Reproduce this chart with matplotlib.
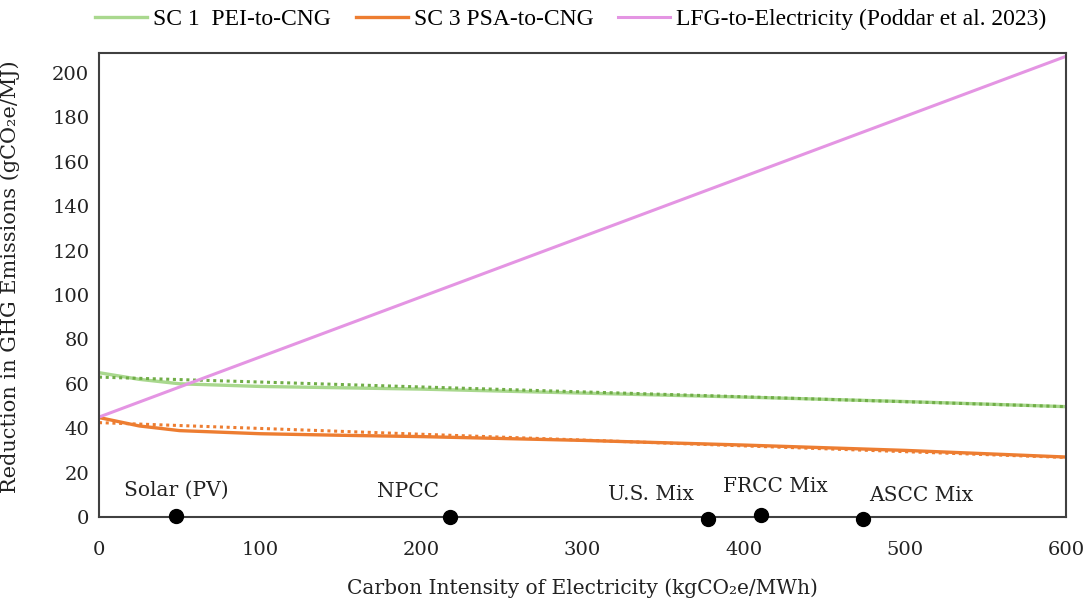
import matplotlib.pyplot as plt
import numpy as np

# === Data ===
ci_x = [0, 25, 50, 100, 150, 200, 300, 400, 500, 600]
sc1_pei = [65, 62, 60, 58.8, 58.2, 57.6, 55.8, 54, 52, 49.7]
sc3_psa = [44.8, 41, 38.9, 37.5, 36.8, 36.2, 34.5, 32.4, 30.0, 27.0]

# linear trendlines (end points)
trend_x = [0, 600]
sc1_trend = [63, 49.7]
sc3_trend = [42.5, 26.8]

lfg_x = [0, 600]
lfg_elec = [45, 207.5]

grid_names = ["Solar (PV)", "NPCC", "U.S. Mix", "FRCC Mix", "ASCC Mix"]
grid_ci = [48, 218, 378, 411, 474]
grid_y = [0.5, 0, -0.8, 0.8, -0.8]
label_offsets = [(0, 26), (-42, 25), (-57, 24), (14, 29), (58, 23)]  # pixels

# === Setup ===
plt.rcParams['font.family'] = ['DejaVu Serif']
fig = plt.figure(figsize=(10.83, 6.05), dpi=100)
ax = fig.add_axes([0.0914, 0.1455, 0.8929, 0.7669])

green_solid = "#a9d88e"
green_dot = "#70ad47"
orange = "#ed7d31"
pink = "#e495e3"
txt = "#222222"

# === Plot Lines ===
ax.plot(ci_x, sc1_pei, color=green_solid, lw=2.4, label="SC 1  PEI-to-CNG")
ax.plot(trend_x, sc1_trend, color=green_dot, lw=2.2, ls=(0, (1, 1.2)))
ax.plot(ci_x, sc3_psa, color=orange, lw=2.4, label="SC 3 PSA-to-CNG")
ax.plot(trend_x, sc3_trend, color=orange, lw=2.2, ls=(0, (1, 1.2)))
ax.plot(lfg_x, lfg_elec, color=pink, lw=2.2, label="LFG-to-Electricity (Poddar et al. 2023)")

ax.plot(grid_ci, grid_y, "o", color="black", ms=10, clip_on=False, zorder=5)
for name, gx, gy, (dx, dy) in zip(grid_names, grid_ci, grid_y, label_offsets):
    ax.annotate(name, (gx, gy), xytext=(dx, dy), textcoords="offset pixels",
                ha="center", va="center", fontsize=14.5, color=txt,
                annotation_clip=False)

# === Formatting ===
ax.set_xlim(0, 600)
ax.set_ylim(0, 209)
ax.set_xticks(np.arange(0, 601, 100))
ax.set_yticks(np.arange(0, 201, 20))
ax.tick_params(axis="x", length=0, pad=17, labelsize=14, labelcolor=txt)
ax.tick_params(axis="y", length=0, pad=7, labelsize=14, labelcolor=txt)
for s in ax.spines.values():
    s.set_color("#404040")
    s.set_linewidth(1.5)

ax.set_xlabel("Carbon Intensity of Electricity (kgCO\u2082e/MWh)", fontsize=14.5,
              color=txt, labelpad=14)
ax.set_ylabel("Reduction in GHG Emissions (gCO\u2082e/MJ)", fontsize=15, color=txt)
ax.yaxis.set_label_coords(-0.082, 0.517)

ax.legend(loc="center", bbox_to_anchor=(0.488, 1.073), ncol=3, frameon=False,
          prop={"family": "Liberation Serif", "size": 17}, handlelength=2.2,
          columnspacing=1.05, handletextpad=0.25, borderpad=0)

fig.savefig("out.png", dpi=100)
